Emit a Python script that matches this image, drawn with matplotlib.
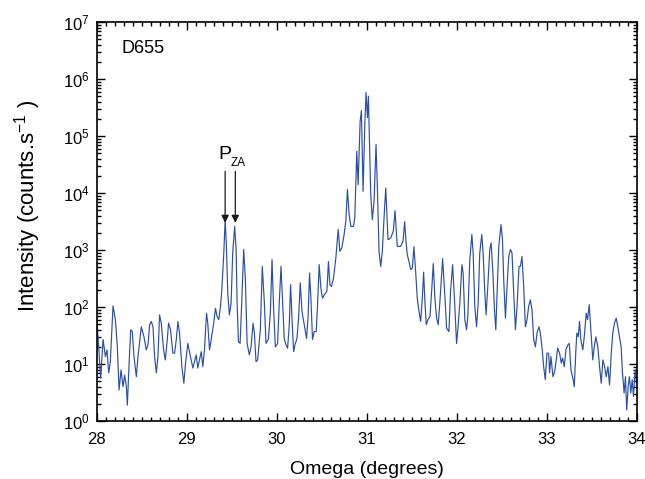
import numpy as np
import matplotlib
matplotlib.use('Agg')
import matplotlib.pyplot as plt
from matplotlib.ticker import MultipleLocator, LogLocator, NullFormatter

plt.rcParams['font.family'] = ['Liberation Sans', 'DejaVu Sans']
plt.rcParams['mathtext.fontset'] = 'custom'
plt.rcParams['mathtext.rm'] = 'Liberation Sans'
plt.rcParams['mathtext.it'] = 'Liberation Sans:italic'

# omega scan (degrees, counts/s)
omega = [
    28.000, 28.044, 28.070, 28.096, 28.114, 28.133, 28.151, 28.181, 28.207, 28.229,
    28.248, 28.270, 28.292, 28.310, 28.329, 28.340, 28.358, 28.377, 28.395, 28.414,
    28.440, 28.458, 28.495, 28.525, 28.550, 28.569, 28.588, 28.606, 28.625, 28.643,
    28.662, 28.680, 28.698, 28.717, 28.743, 28.762, 28.784, 28.798, 28.820, 28.846,
    28.865, 28.884, 28.902, 28.920, 28.946, 28.968, 28.987, 29.012,
    29.050, 29.068, 29.105, 29.123, 29.161, 29.179, 29.197, 29.220, 29.234, 29.253,
    29.272, 29.300, 29.319, 29.338, 29.356, 29.375, 29.390, 29.412, 29.427, 29.441,
    29.456, 29.474, 29.493, 29.511, 29.533, 29.549, 29.560, 29.574, 29.593, 29.611,
    29.633, 29.652, 29.671, 29.696, 29.715, 29.737, 29.752, 29.770, 29.788, 29.818,
    29.840, 29.863, 29.881, 29.907, 29.929, 29.948, 29.966, 29.985, 30.010,
    30.029, 30.048, 30.065, 30.084, 30.103, 30.121, 30.140, 30.154, 30.170, 30.188,
    30.203, 30.225, 30.243, 30.262, 30.281, 30.306, 30.332, 30.350, 30.365, 30.380,
    30.398, 30.417, 30.439, 30.454, 30.472, 30.491, 30.509, 30.528, 30.558, 30.575,
    30.591, 30.609, 30.631, 30.657, 30.683, 30.702, 30.724, 30.749, 30.768, 30.786,
    30.805, 30.824, 30.853, 30.868, 30.890, 30.905, 30.927, 30.941, 30.960, 30.979,
    30.993,
    31.008, 31.019, 31.034, 31.045, 31.063, 31.082, 31.104, 31.119, 31.137, 31.156,
    31.174, 31.193, 31.212, 31.223, 31.237, 31.267, 31.296, 31.315, 31.329, 31.340,
    31.378, 31.404, 31.422, 31.437, 31.451, 31.470, 31.489, 31.507, 31.525, 31.544,
    31.562, 31.581, 31.600, 31.618, 31.633, 31.647, 31.662, 31.681, 31.703, 31.722,
    31.740, 31.758, 31.777, 31.795, 31.814, 31.844, 31.866, 31.888, 31.914, 31.932,
    31.955, 31.977,
    31.999, 32.013, 32.035, 32.058, 32.072, 32.091, 32.110, 32.124, 32.146, 32.169,
    32.183, 32.202, 32.221, 32.239, 32.257, 32.279, 32.294, 32.313, 32.327, 32.346,
    32.368, 32.383, 32.401, 32.420, 32.435, 32.449, 32.468, 32.493, 32.509, 32.523,
    32.542, 32.560, 32.579, 32.598, 32.615, 32.634, 32.653, 32.671, 32.693, 32.708,
    32.726, 32.745, 32.764, 32.782, 32.800, 32.819, 32.837, 32.856, 32.875, 32.893,
    32.915, 32.930, 32.948,
    32.967, 32.985, 33.003, 33.022, 33.033, 33.048, 33.070, 33.089, 33.107, 33.122,
    33.144, 33.163, 33.177, 33.196, 33.214, 33.236, 33.252, 33.270, 33.292, 33.307,
    33.325, 33.336, 33.351, 33.366, 33.380, 33.402, 33.418, 33.440, 33.455, 33.473,
    33.491, 33.513, 33.529, 33.547, 33.569, 33.588, 33.607, 33.625, 33.644, 33.662,
    33.681, 33.699, 33.718, 33.735, 33.754, 33.773, 33.791, 33.809, 33.828, 33.843,
    33.861, 33.876, 33.890, 33.906, 33.920, 33.935, 33.951, 33.965, 33.984, 34.000,
]
intensity = [
    65, 5.7, 27, 13.5, 17.7, 7, 11, 105, 60, 20,
    3.5, 7.9, 4, 6.4, 4, 1.9, 8.9, 40, 37, 13.4,
    6, 13.4, 45, 30, 17.7, 21.7, 49, 56, 45, 13.4,
    7, 13.4, 73, 52, 17.7, 11.8, 27, 52, 40, 15.5,
    15.5, 27, 56, 35, 9, 4.6, 10.4, 23,
    11.8, 8.5, 14.5, 8.5, 16.5, 9, 17.7, 78, 52, 17.7,
    27, 52, 95, 68, 60, 102, 200, 890, 3400, 1160,
    175, 73, 117, 890, 2600, 1020, 117, 25, 23, 117,
    1020, 300, 23, 14.5, 20, 52, 35, 11, 11.8, 40,
    515, 117, 23, 27, 78, 680, 90, 20, 23,
    125, 515, 125, 28, 21.7, 19, 49, 247, 64, 16.5,
    21.7, 28, 64, 265, 84, 49, 28, 73, 395, 143,
    27, 37, 37, 110, 554, 215, 143, 163, 190, 630,
    247, 230, 320, 720, 2290, 950, 1090, 1870, 3200, 11600,
    4200, 2600, 2600, 3700, 54000, 14000, 1.8e5, 2.8e5, 10700, 1.6e5,
    5.8e5,
    2.1e5, 5.0e5, 54000, 9400, 3400, 7200, 71000, 12300, 950, 515,
    950, 3700, 12300, 4800, 1520, 1630, 2150, 4900, 2150, 1160,
    1160, 1430, 3150, 1430, 830, 630, 453, 480, 1140, 425,
    143, 84, 56, 143, 410, 125, 49, 60, 68, 190,
    577, 143, 64, 49, 125, 706, 190, 43, 37, 190,
    554, 125,
    23, 40, 117, 554, 395, 60, 40, 68, 680, 1870,
    890, 102, 45, 117, 890, 1870, 890, 175, 73, 230,
    1020, 1330, 453, 90, 40, 175, 1160, 2800, 1520, 300,
    64, 230, 770, 1020, 890, 175, 40, 102, 515, 515,
    770, 230, 45, 60, 102, 134, 90, 27, 20, 35,
    45, 35, 20,
    9, 5.3, 15.5, 15.5, 7, 13.5, 6, 7.4, 11.8, 19,
    15.5, 10.4, 12.7, 9, 17.7, 21.7, 23, 7.9, 5.6, 4,
    17.7, 35, 30, 56, 27, 17.7, 30, 78, 60, 110,
    40, 11.8, 20, 30, 20, 9, 4.6, 11.8, 9, 6,
    9, 4.3, 15.5, 35, 52, 64, 45, 30, 20, 7,
    3.1, 6, 1.56, 4, 6, 3.1, 5.3, 2.7, 7.9, 4.6,
]

sample_name = 'D655'
arrow_omega = [29.427, 29.540]

fig = plt.figure(figsize=(6.45, 4.79), dpi=100)
ax = fig.add_axes([0.150, 0.121, 0.837, 0.833])

ax.plot(omega, intensity, color='#2c4ea6', lw=0.85)

ax.set_yscale('log')
ax.set_xlim(28, 34)
ax.set_ylim(1, 1e7)

ax.xaxis.set_major_locator(MultipleLocator(1))
ax.xaxis.set_minor_locator(MultipleLocator(0.1))
ax.yaxis.set_major_locator(LogLocator(base=10, numticks=10))
ax.yaxis.set_minor_locator(LogLocator(base=10, subs=np.arange(2, 10), numticks=20))
ax.yaxis.set_minor_formatter(NullFormatter())

ax.tick_params(which='both', direction='in', top=True, right=True, width=1.0)
ax.tick_params(which='major', length=6, labelsize=12)
ax.tick_params(axis='x', which='major', pad=8)
ax.tick_params(axis='y', which='major', pad=5)
ax.tick_params(which='minor', length=3)
for s in ax.spines.values():
    s.set_linewidth(1.2)

ax.set_xlabel('Omega (degrees)', fontsize=14, labelpad=10)
ax.set_ylabel('Intensity (counts.s$^{-1}$ )', fontsize=16)
ax.yaxis.set_label_coords(-0.10, 0.539)

ax.text(0.045, 0.955, sample_name, transform=ax.transAxes, fontsize=13,
        ha='left', va='top')

# arrows marking the P_ZA fringes
for om in arrow_omega:
    ax.annotate('', xy=(om, 3000), xytext=(om, 2.4e4),
                arrowprops=dict(arrowstyle='-|>', color='#1a1a1a', lw=0.9,
                                mutation_scale=11, shrinkA=0, shrinkB=0))
ax.text(29.35, 3.4e4, 'P', fontsize=14, ha='left', va='bottom')
ax.text(29.489, 4.3e4, 'ZA', fontsize=8.5, ha='left', va='top')

fig.savefig('out.png', dpi=100)
